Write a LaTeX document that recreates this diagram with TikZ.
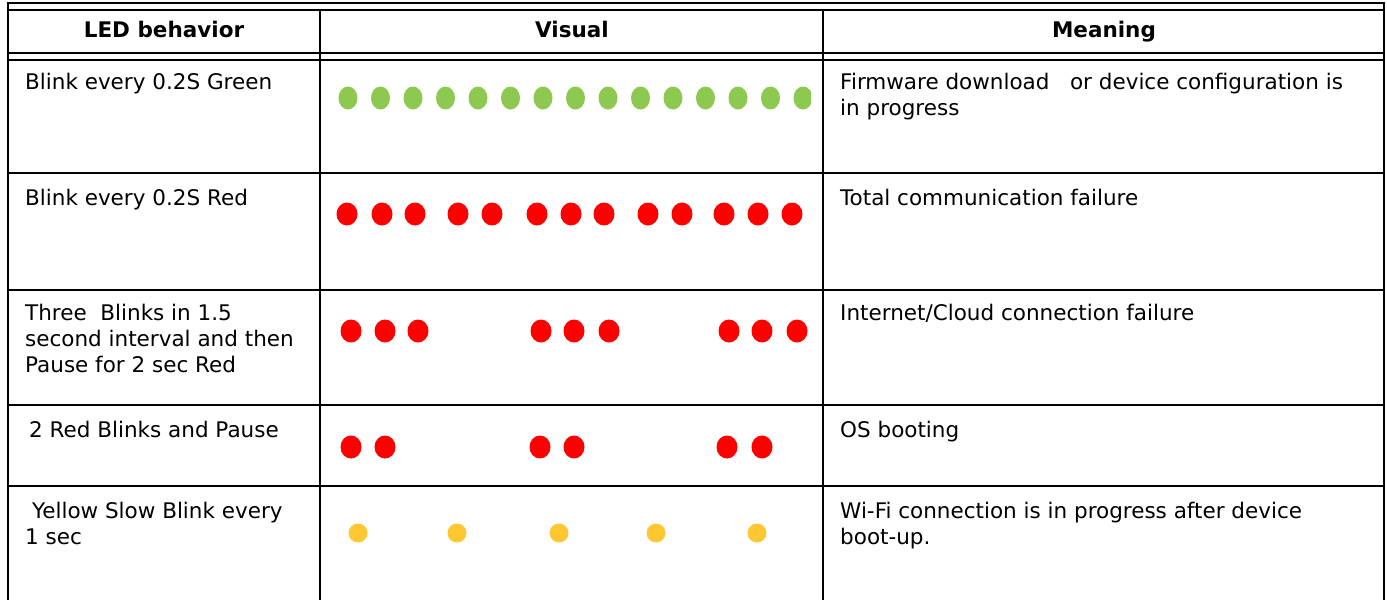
\documentclass[tikz,border=0pt]{standalone}
\usepackage{fontspec}
\setmainfont{DejaVu Sans}
\usepackage{tikz}
\usetikzlibrary{positioning,calc}

\definecolor{ledgreen}{RGB}{141,200,80}
\definecolor{ledred}{RGB}{255,0,0}
\definecolor{ledyellow}{RGB}{255,200,50}

\begin{document}
\begin{tikzpicture}[x=1pt,y=-1pt,
    rule/.style={line width=2.8pt},
    head/.style={font=\fontsize{21.5}{26}\selectfont\bfseries,anchor=base},
    cell/.style={font=\fontsize{21.5}{26}\selectfont,anchor=base west,align=left,inner sep=0pt},
    ledg/.style={fill=ledgreen},
    ledr/.style={fill=ledred},
    ledy/.style={fill=ledyellow}]

  \useasboundingbox (0,0) rectangle (1387,600);

  % frame and rules
  \draw[rule] (8,3) -- (1384,3);
  \draw[rule] (8,10) -- (1384,10);
  \draw[rule] (8,53) -- (1384,53);
  \draw[rule] (8,60) -- (1384,60);
  \draw[rule] (8,173) -- (1384,173);
  \draw[rule] (8,290) -- (1384,290);
  \draw[rule] (8,405) -- (1384,405);
  \draw[rule] (8,486) -- (1384,486);
  \draw[rule] (8,2) -- (8,600);
  \draw[rule] (1384,2) -- (1384,600);
  \draw[rule] (320,10) -- (320,600);
  \draw[rule] (823,10) -- (823,600);

  % header
  \node[head] (h0) at (164,37) {LED behavior};
  \node[head] (h1) at (572,37) {Visual};
  \node[head] (h2) at (1104,37) {Meaning};

  % behaviour column (base = last line)
  \node[cell] (b0) at (25,89) {Blink every 0.2S Green};
  \node[cell] (b1) at (25,205) {Blink every 0.2S Red};
  \node[cell] (b2) at (25,372) {Three\ \ Blinks in 1.5\\second interval and then\\Pause for 2 sec Red};
  \node[cell] (b3) at (29,437) {2 Red Blinks and Pause};
  \node[cell] (b4) at (25,544) {\ Yellow Slow Blink every\\1 sec};

  % meaning column
  \node[cell] (m0) at (840,115) {Firmware download\ \ \ or device configuration is\\in progress};
  \node[cell] (m1) at (840,205) {Total communication failure};
  \node[cell] (m2) at (840,320) {Internet/Cloud connection failure};
  \node[cell] (m3) at (840,437) {OS booting};
  \node[cell] (m4) at (840,544) {Wi-Fi connection is in progress after device\\boot-up.};

  % blink patterns
  \begin{scope}
    \clip (320,60) rectangle (811,173);
    \foreach \i in {0,...,14}
      \fill[ledg] (348+32.5*\i,98) ellipse (9.5 and 11.5);
  \end{scope}
  \foreach \x in {347,382,415,458,492,537,571,604,648,682,724,758,792}
    \fill[ledr] (\x,214) ellipse (10.5 and 11.5);
  \foreach \x in {351,385,418,541,574,609,729,762,797}
    \fill[ledr] (\x,331) ellipse (10.5 and 11.5);
  \foreach \x in {351,385,540,574,727,762}
    \fill[ledr] (\x,447) ellipse (10.5 and 11.5);
  \foreach \x in {358,457,559,656,757}
    \fill[ledy] (\x,533) circle (9.5);

\end{tikzpicture}
\end{document}
